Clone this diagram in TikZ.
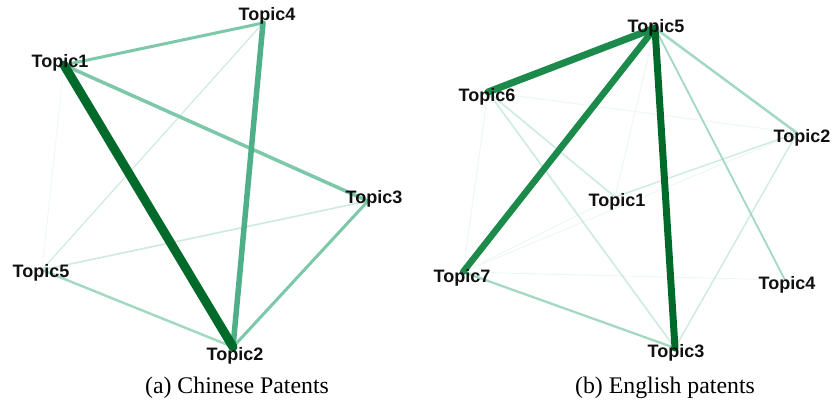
\documentclass[tikz,border=0pt]{standalone}
\usepackage{fontspec}
\setmainfont{Liberation Serif}
\newfontfamily\labfont{Liberation Sans}
\definecolor{gA}{HTML}{006A2B}
\definecolor{gB}{HTML}{1B8A4A}
\definecolor{gC}{HTML}{4FAF88}
\definecolor{gD}{HTML}{7CC8A8}
\definecolor{gE}{HTML}{A3D9C2}
\definecolor{gF}{HTML}{CDEBDF}
\definecolor{gG}{HTML}{EEF8F3}
\definecolor{txt}{HTML}{111111}
\begin{document}
\begin{tikzpicture}[x=1pt,y=-1pt,
  toplab/.style={font=\labfont\bfseries\fontsize{18}{18}\selectfont,text=txt,inner sep=0pt},
  captext/.style={font=\fontsize{23.8}{24}\selectfont,inner sep=0pt},
  conn/.style={line cap=round}]
\fill[white] (0,0) rectangle (833,410);
\useasboundingbox (0,0) rectangle (833,410);
% ---------- panel (a) ----------
\coordinate (a1) at (64,65);
\coordinate (a2) at (233,347);
\coordinate (a3) at (368,201);
\coordinate (a4) at (263,23);
\coordinate (a5) at (42,270);
\draw[conn,gG,line width=0.8pt] (a1) -- (a5);
\draw[conn,gF,line width=1.2pt] (a5) -- (a4);
\draw[conn,gF,line width=1.6pt] (a5) -- (a3);
\draw[conn,gE,line width=2.5pt] (a5) -- (a2);
\draw[conn,gD,line width=3pt] (a1) -- (a4);
\draw[conn,gD,line width=3.5pt] (a1) -- (a3);
\draw[conn,gD,line width=3pt] (a3) -- (a2);
\draw[conn,gC,line width=5.5pt] (a4) -- (a2);
\draw[conn,gA,line width=9pt] (a1) -- (a2);
\node[toplab] (la1) at (60,63) {Topic1};
\node[toplab] (la2) at (235,356) {Topic2};
\node[toplab] (la3) at (374,199) {Topic3};
\node[toplab] (la4) at (267,16) {Topic4};
\node[toplab] (la5) at (41,273) {Topic5};
\node[captext] (capa) at (237,388) {(a) Chinese Patents};
% ---------- panel (b) ----------
\coordinate (b1) at (615,197);
\coordinate (b2) at (797,133);
\coordinate (b3) at (675,348);
\coordinate (b4) at (785,280);
\coordinate (b5) at (655,28);
\coordinate (b6) at (488,92);
\coordinate (b7) at (463,272);
\foreach \u/\v in {b7/b4,b6/b2,b6/b7,b7/b1,b7/b2,b5/b1}
  \draw[conn,gG,line width=1pt] (\u) -- (\v);
\draw[conn,gF,line width=1.4pt] (b1) -- (b2);
\draw[conn,gF,line width=1.4pt] (b2) -- (b3);
\draw[conn,gF,line width=1.6pt] (b6) -- (b1);
\draw[conn,gF,line width=1.6pt] (b6) -- (b3);
\draw[conn,gE,line width=1.8pt] (b5) -- (b4);
\draw[conn,gE,line width=2.5pt] (b5) -- (b2);
\draw[conn,gE,line width=2.3pt] (b7) -- (b3);
\draw[conn,gB,line width=7pt] (b5) -- (b6);
\draw[conn,gB,line width=6.5pt] (b5) -- (b7);
\draw[conn,gA,line width=7pt] (b5) -- (b3);
\node[toplab] (lb1) at (617,202) {Topic1};
\node[toplab] (lb2) at (802,138) {Topic2};
\node[toplab] (lb3) at (676,353) {Topic3};
\node[toplab] (lb4) at (787,285) {Topic4};
\node[toplab] (lb5) at (656,28) {Topic5};
\node[toplab] (lb6) at (487,97) {Topic6};
\node[toplab] (lb7) at (462,278) {Topic7};
\node[captext] (capb) at (665,388) {(b) English patents};
\end{tikzpicture}
\end{document}
